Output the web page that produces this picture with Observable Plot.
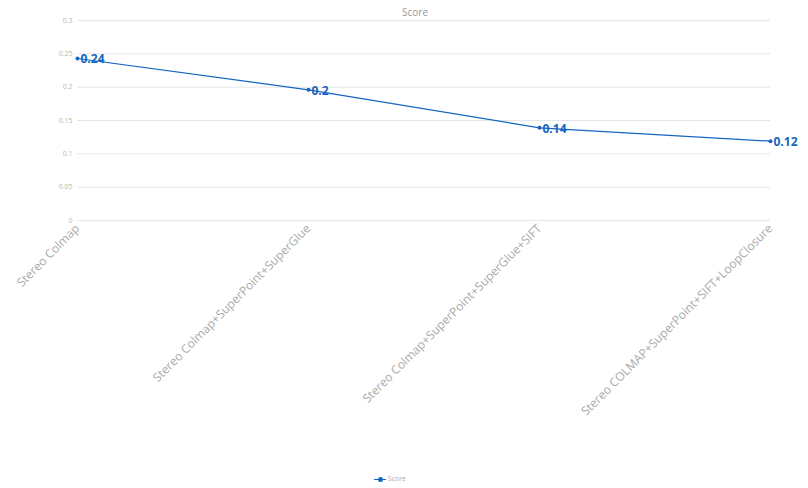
<!DOCTYPE html>
<html>
<head>
<meta charset="utf-8">
<script src="https://cdn.jsdelivr.net/npm/d3@7"></script>
<script src="https://cdn.jsdelivr.net/npm/@observablehq/plot@0.6"></script>
<style>
  body { margin: 0; background: #fff; font-family: "Open Sans", "Noto Sans", sans-serif; }
  #wrap { position: relative; width: 808px; height: 488px; }
  #legend { position: absolute; left: -14px; width: 808px; top: 474px; text-align: center; font-size: 7px; color: #aaa; }
  #legend .sw { display: inline-block; position: relative; width: 12px; height: 7px; vertical-align: middle; }
  #legend .sw::before { content: ""; position: absolute; left: 0; right: 0; top: 3px; height: 1px; background: #1565c0; }
  #legend .sw::after { content: ""; position: absolute; left: 4px; top: 1px; width: 5px; height: 5px; border-radius: 50%; background: #1565c0; }
</style>
</head>
<body>
<div id="wrap">
  <div id="chart"></div>
  <div id="legend"><span class="sw"></span> Score</div>
</div>
<script>
const categories = [
  "Stereo Colmap",
  "Stereo Colmap+SuperPoint+SuperGlue",
  "Stereo Colmap+SuperPoint+SuperGlue+SIFT",
  "Stereo COLMAP+SuperPoint+SIFT+LoopClosure"
];
const scores = [0.243, 0.196, 0.139, 0.119];
const yTicks = [0, 0.05, 0.1, 0.15, 0.2, 0.25, 0.3];
const seriesName = "Score";

const data = categories.map((c, i) => ({cat: c, v: scores[i], label: String(Math.round(scores[i] * 100) / 100)}));
const blue = "#1565c0";

const chart = Plot.plot({
  width: 808,
  height: 470,
  marginLeft: 77,
  marginRight: 38,
  marginTop: 20,
  marginBottom: 250,
  style: {fontFamily: "'Open Sans', 'Noto Sans', sans-serif", background: "#fff"},
  x: {type: "point", domain: categories, padding: 0, label: null},
  y: {domain: [0, 0.3], label: null},
  marks: [
    Plot.gridY(yTicks, {stroke: "#e6e6e6", strokeOpacity: 1, strokeWidth: 1}),
    Plot.axisY(yTicks, {tickSize: 0, tickPadding: 5, fontSize: 7, fill: "#c8b39a", tickFormat: d => String(d)}),
    Plot.axisX({tickSize: 0, tickPadding: 6, tickRotate: -45, fontSize: 12, fill: "#aaaaaa"}),
    Plot.line(data, {x: "cat", y: "v", stroke: blue, strokeWidth: 1.2}),
    Plot.dot(data, {x: "cat", y: "v", r: 2, fill: blue}),
    Plot.text(data, {x: "cat", y: "v", text: "label", textAnchor: "start", dx: 3, dy: 1, fontSize: 12, fontWeight: "bold", fill: blue}),
    Plot.text([seriesName], {frameAnchor: "top", dx: -9, dy: -12, fontSize: 10, fill: "#999"})
  ]
});
document.getElementById("chart").appendChild(chart);
</script>
</body>
</html>
